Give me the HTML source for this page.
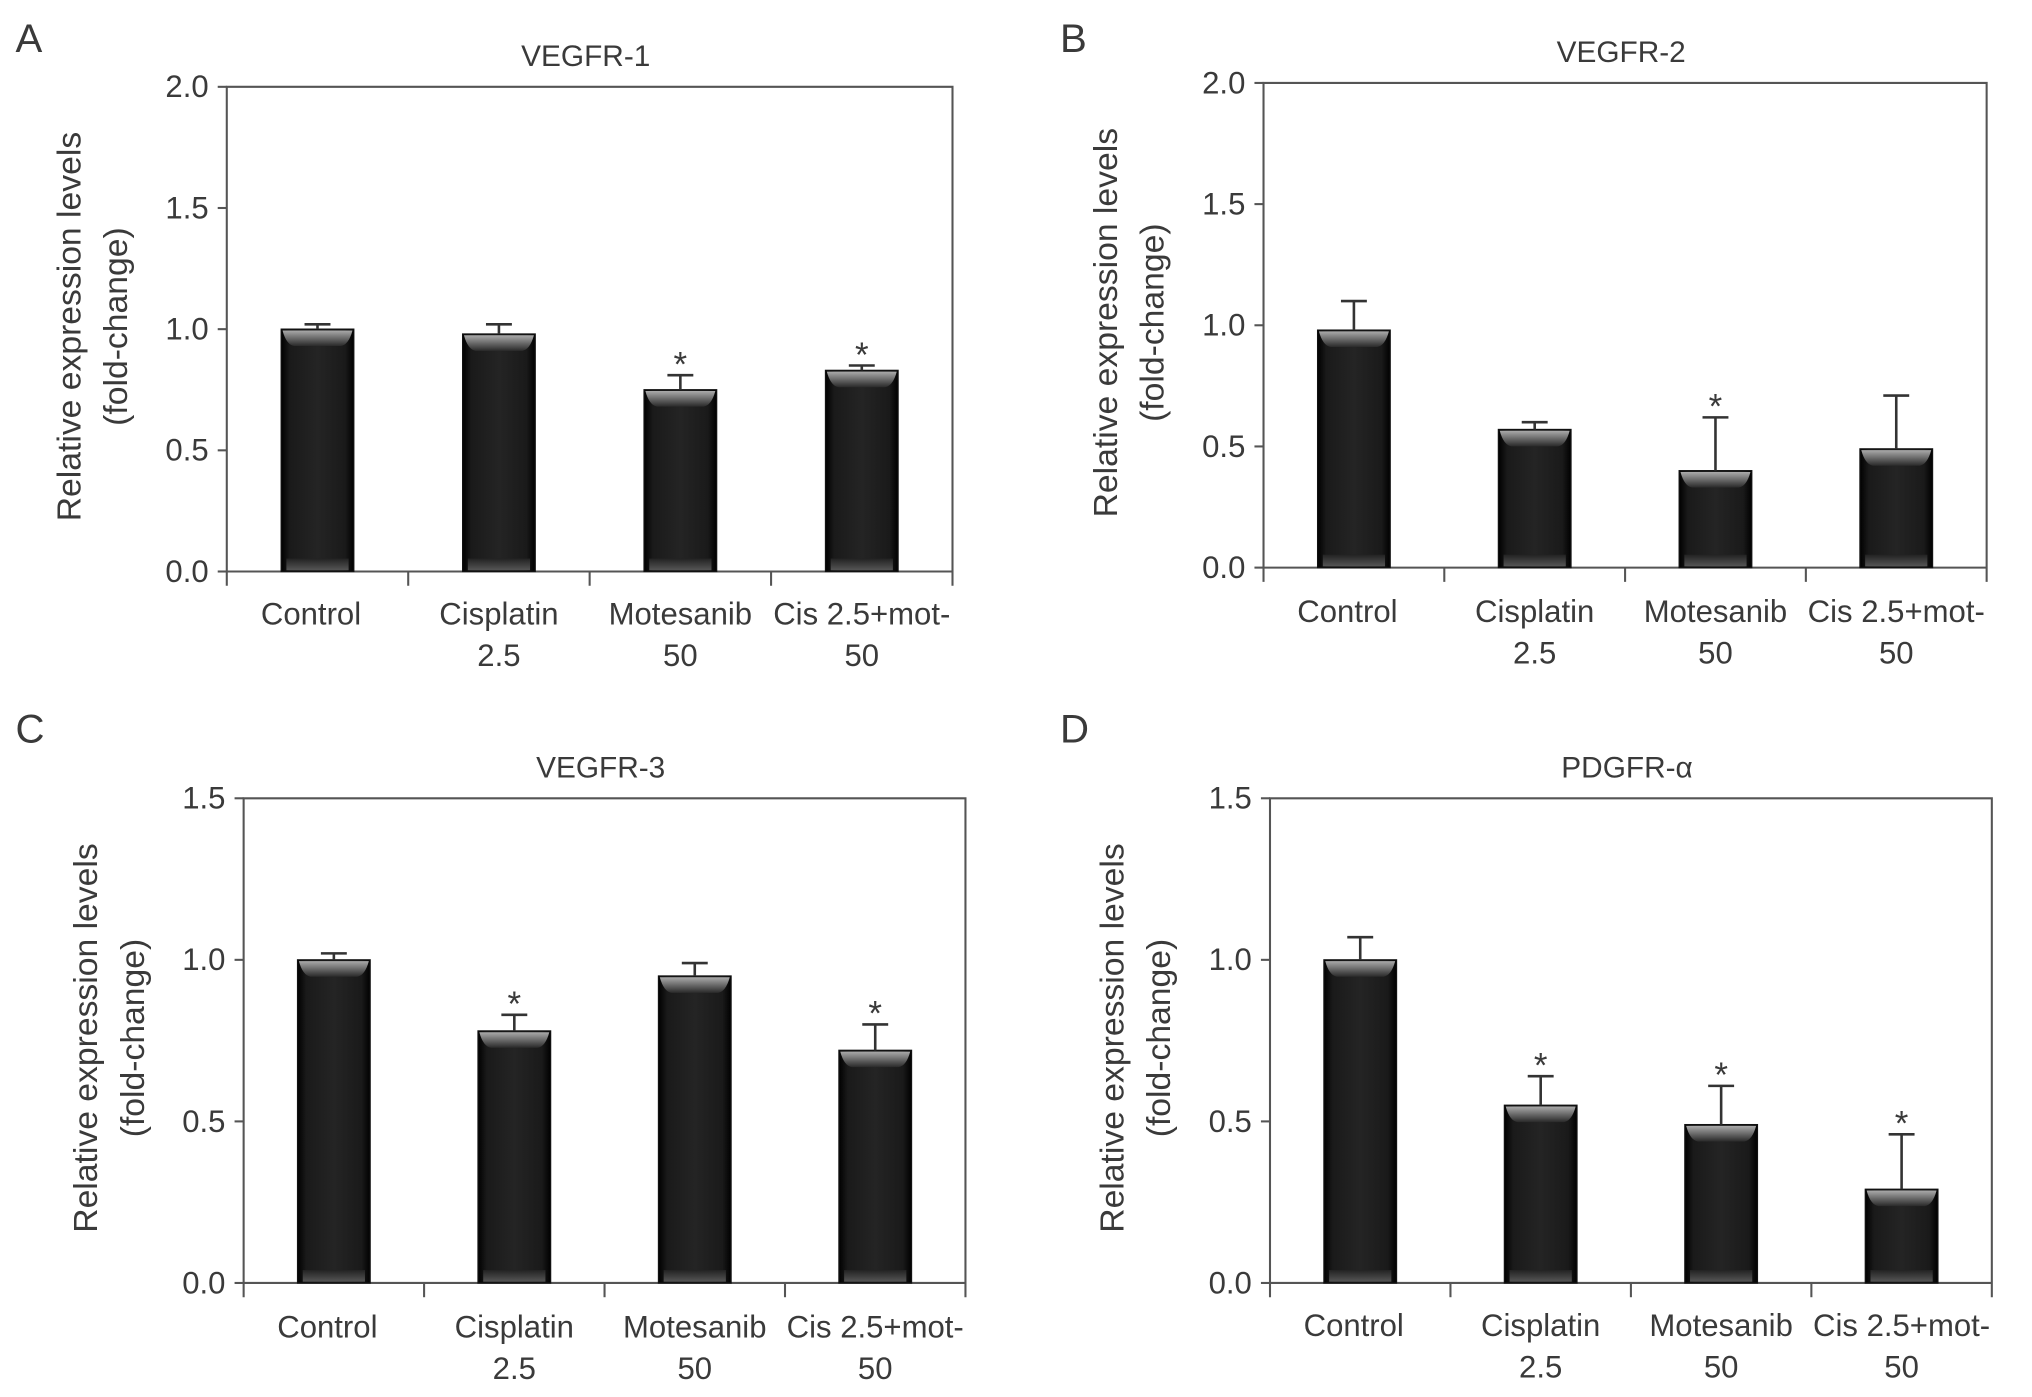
<!DOCTYPE html>
<html><head><meta charset="utf-8"><style>
html,body{margin:0;padding:0;background:#fff;}
svg{display:block;}
text{font-family:"Liberation Sans",sans-serif;fill:#3a3a3a;}
</style></head><body>
<svg id="fig" width="2032" height="1397" viewBox="0 0 1568 1078" preserveAspectRatio="none" xmlns="http://www.w3.org/2000/svg">
<defs>
<linearGradient id="bodyG" x1="0" y1="0" x2="1" y2="0">
<stop offset="0" stop-color="#000"/><stop offset="0.12" stop-color="#1a1a1a"/><stop offset="0.5" stop-color="#242424"/><stop offset="0.88" stop-color="#1a1a1a"/><stop offset="1" stop-color="#000"/>
</linearGradient>
<linearGradient id="capG" x1="0" y1="0" x2="0" y2="1">
<stop offset="0" stop-color="#aaa"/><stop offset="1" stop-color="#2a2a2a"/>
</linearGradient>
<linearGradient id="botG" x1="0" y1="0" x2="0" y2="1">
<stop offset="0" stop-color="#222"/><stop offset="1" stop-color="#555"/>
</linearGradient>
</defs>
</svg>
<script>
const categories = [["Control"],["Cisplatin","2.5"],["Motesanib","50"],["Cis 2.5+mot-","50"]];
const titles = ["VEGFR-1","VEGFR-2","VEGFR-3","PDGFR-\u03b1"];
const letters = ["A","B","C","D"];
const valuesA = [1.0, 0.98, 0.75, 0.83];
const errorsA = [0.02, 0.04, 0.06, 0.02];
const starsA = [false, false, true, true];
const valuesB = [0.98, 0.57, 0.40, 0.49];
const errorsB = [0.12, 0.03, 0.22, 0.22];
const starsB = [false, false, true, false];
const valuesC = [1.0, 0.78, 0.95, 0.72];
const errorsC = [0.02, 0.05, 0.04, 0.08];
const starsC = [false, true, false, true];
const valuesD = [1.0, 0.55, 0.49, 0.29];
const errorsD = [0.07, 0.09, 0.12, 0.17];
const starsD = [false, true, true, true];
const ticksAB = ["0.0","0.5","1.0","1.5","2.0"];
const ticksCD = ["0.0","0.5","1.0","1.5"];

const NS = "http://www.w3.org/2000/svg";
const svg = document.getElementById("fig");
function mk(tag, attrs, parent, txt){
  const e = document.createElementNS(NS, tag);
  for (const k in attrs) e.setAttribute(k, attrs[k]);
  if (txt !== undefined) e.textContent = txt;
  (parent||svg).appendChild(e);
  return e;
}
const layouts = [
  {left:175,right:735,top:67,bottom:441,letterX:12,letterY:40,ymax:2.0,ticks:ticksAB,vals:valuesA,errs:errorsA,stars:starsA,lab:473},
  {left:975,right:1533,top:64,bottom:438,letterX:818,letterY:40,ymax:2.0,ticks:ticksAB,vals:valuesB,errs:errorsB,stars:starsB,lab:471},
  {left:188,right:745,top:616,bottom:990,letterX:12,letterY:573,ymax:1.5,ticks:ticksCD,vals:valuesC,errs:errorsC,stars:starsC,lab:1023},
  {left:980,right:1537,top:616,bottom:990,letterX:818,letterY:573,ymax:1.5,ticks:ticksCD,vals:valuesD,errs:errorsD,stars:starsD,lab:1022}
];
layouts.forEach((L, p) => {
  const g = mk("g", {});
  
  
  const y = v => L.bottom - (v / L.ymax) * (L.bottom - L.top);
  const bw = (L.right - L.left) / categories.length;
  const x = i => L.left + bw * (i + 0.5);
  const lt = mk("text", {x:L.letterX, y:L.letterY, "font-size":31}, g, letters[p]);
  
  
  const tt = mk("text", {x:(L.left+L.right)/2 - 3, y:L.top - 16, "font-size":23, "text-anchor":"middle"}, g, titles[p]);
  
  
  const fr = mk("path", {d:`M${L.left},${L.bottom+11} V${L.top} H${L.right} V${L.bottom+11} M${L.left},${L.bottom} H${L.right}`, stroke:"#555", "stroke-width":1.6, fill:"none"}, g);
  
  
  for (let i = 1; i < categories.length; i++) {
    mk("line", {x1:L.left+bw*i, x2:L.left+bw*i, y1:L.bottom, y2:L.bottom+11, stroke:"#555", "stroke-width":1.6}, g);
  }
  L.ticks.forEach(t => {
    const yy = y(parseFloat(t));
    mk("line", {x1:L.left-7, x2:L.left, y1:yy, y2:yy, stroke:"#555", "stroke-width":1.6}, g);
    const tl = mk("text", {x:L.left-14, y:yy+8, "font-size":24, "text-anchor":"end"}, g, t);
    
    
  });
  const yt = mk("text", {transform:`translate(${L.left-113},${(L.top+L.bottom)/2 - 2}) rotate(-90)`, "font-size":26, "text-anchor":"middle"}, g);
  
  
  mk("tspan", {x:0, dy:0}, yt, "Relative expression levels");
  mk("tspan", {x:0, dy:36}, yt, "(fold-change)");
  categories.forEach((c, i) => {
    const bx = x(i) - 28, top = y(L.vals[i]), h = L.bottom - top;
    const bar = mk("rect", {x:bx, y:top, width:56, height:h, fill:"url(#bodyG)", stroke:"#111", "stroke-width":1}, g);
    
    
    mk("path", {d:`M${bx+1},${top+1} H${bx+55} Q${bx+52},${top+12} ${bx+46},${top+13} H${bx+10} Q${bx+4},${top+12} ${bx+1},${top+1} Z`, fill:"url(#capG)"}, g);
    mk("rect", {x:bx+4, y:L.bottom-10, width:48, height:9, fill:"url(#botG)"}, g);
    const ey = y(L.vals[i] + L.errs[i]);
    const eb = mk("path", {d:`M${x(i)},${top} V${ey} M${x(i)-10},${ey} H${x(i)+10}`, stroke:"#333", "stroke-width":2, fill:"none"}, g);
    
    
    if (L.stars[i]) {
      const st = mk("text", {x:x(i), y:ey+1, "font-size":27, "text-anchor":"middle", fill:"#222"}, g, "*");
      
      
    }
    c.forEach((line, k) => {
      const xl = mk("text", {x:x(i) + (i===0 ? -5 : 0), y:L.lab + 9 + k*32, "font-size":24, "text-anchor":"middle"}, g, line);
      
      
    });
  });
});
</script>
</body></html>
